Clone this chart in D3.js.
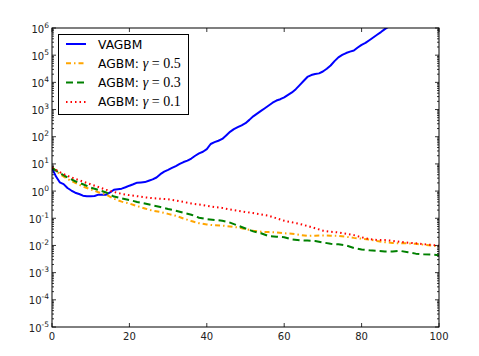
<!DOCTYPE html>
<html><head><meta charset="utf-8">
<script src="https://cdn.jsdelivr.net/npm/d3@7"></script>
<style>body{margin:0;background:#fff}svg{display:block}</style>
</head><body>
<script>
// ---- data ----
const vagbmX = d3.range(0, 89); // iterations 0..88
const vagbm = [7.1,3.5,2.1,1.8,1.3,1.05,0.87,0.78,0.68,0.65,0.65,0.66,0.74,0.74,0.74,0.89,1.12,1.17,1.23,1.38,
1.58,1.78,2.04,2.09,2.14,2.4,2.7,3.16,4.2,5.2,6.0,7.1,8.3,10,11.7,13.2,15.8,20,24.5,28,
35,54,63,71,83,112,151,190,224,263,316,417,562,708,891,1120,1410,1780,2140,2400,
2820,3470,4270,5620,7940,11200,15800,18600,20400,21400,25100,31600,41700,60300,83200,102000,120000,135000,148000,191000,
240000,282000,355000,447000,562000,708000,912000,1120000,1410000];
const agbmX = d3.range(0, 101, 2); // iterations 0,2,...,100
const agbm05 = [7.6,4.2,2.8,2.0,1.48,1.15,0.91,0.74,0.52,0.41,0.35,0.28,0.23,0.19,0.17,0.145,0.123,0.098,0.079,0.066,
0.059,0.055,0.054,0.050,0.046,0.040,0.035,0.032,0.031,0.030,0.028,0.027,0.0245,0.0224,0.0229,0.0234,0.0229,0.0224,0.0209,0.019,
0.0178,0.0166,0.0145,0.0132,0.0123,0.012,0.012,0.0115,0.0107,0.010,0.0093];
const agbm03 = [7.1,4.6,3.2,2.3,1.78,1.35,1.10,0.89,0.63,0.54,0.47,0.40,0.35,0.30,0.26,0.22,0.19,0.158,0.135,0.105,
0.093,0.087,0.081,0.069,0.054,0.042,0.033,0.028,0.022,0.021,0.020,0.0166,0.0155,0.0151,0.0145,0.0129,0.0115,0.011,0.010,0.0081,
0.0071,0.0066,0.0063,0.006,0.006,0.0063,0.0056,0.005,0.0047,0.0046,0.0044];
const agbm01 = [7.24,5.0,3.63,2.82,2.24,1.78,1.41,1.12,0.93,0.79,0.71,0.65,0.59,0.55,0.52,0.50,0.45,0.40,0.35,0.32,
0.29,0.26,0.24,0.21,0.19,0.17,0.155,0.138,0.123,0.10,0.081,0.071,0.062,0.052,0.043,0.035,0.032,0.030,0.027,0.024,
0.020,0.017,0.016,0.0158,0.0148,0.0135,0.0126,0.012,0.0112,0.0105,0.0098];
const xTicks = [0,20,40,60,80,100];
const yExps = [-5,-4,-3,-2,-1,0,1,2,3,4,5,6];
const legendLabels = ["VAGBM","AGBM: ","AGBM: ","AGBM: "];
const gammas = ["0.5","0.3","0.1"];

const series = [
  {x: vagbmX, y: vagbm, color: "#0000ff", dash: null},
  {x: agbmX, y: agbm05, color: "#ffa500", dash: "5,3,1.5,3"},
  {x: agbmX, y: agbm03, color: "#008000", dash: "7,4"},
  {x: agbmX, y: agbm01, color: "#ff0000", dash: "1.5,3"}
];

// ---- layout ----
const W = 479, H = 356;
const L = 52, R = 439, T = 28, B = 327;
const svg = d3.select("body").append("svg").attr("width", W).attr("height", H);
const x = d3.scaleLinear().domain([0,100]).range([L,R]);
const y = d3.scaleLog().domain([1e-5,1e6]).range([B,T]);

svg.append("clipPath").attr("id","clip").append("rect")
  .attr("x",L).attr("y",T).attr("width",R-L).attr("height",B-T);

const line = d3.line().x(d=>x(d[0])).y(d=>y(d[1]));
const plot = svg.append("g").attr("clip-path","url(#clip)");
series.forEach(s=>{
  plot.append("path").datum(s.x.map((v,i)=>[v,s.y[i]]))
    .attr("d", line).attr("fill","none").attr("stroke", s.color)
    .attr("stroke-width", 2).attr("stroke-dasharray", s.dash)
    .attr("stroke-linejoin","round");
});

// ticks
const tk = svg.append("g").attr("stroke","#000").attr("stroke-width",0.8);
xTicks.forEach(v=>{
  tk.append("line").attr("x1",x(v)).attr("x2",x(v)).attr("y1",B).attr("y2",B-4);
  tk.append("line").attr("x1",x(v)).attr("x2",x(v)).attr("y1",T).attr("y2",T+4);
});
yExps.forEach(e=>{
  const v = Math.pow(10,e);
  tk.append("line").attr("x1",L).attr("x2",L+4).attr("y1",y(v)).attr("y2",y(v));
  tk.append("line").attr("x1",R).attr("x2",R-4).attr("y1",y(v)).attr("y2",y(v));
  if (e < 6) for (let m=2;m<=9;m++){
    const mv = m*v;
    tk.append("line").attr("x1",L).attr("x2",L+2).attr("y1",y(mv)).attr("y2",y(mv));
    tk.append("line").attr("x1",R).attr("x2",R-2).attr("y1",y(mv)).attr("y2",y(mv));
  }
});
svg.append("rect").attr("x",L).attr("y",T).attr("width",R-L).attr("height",B-T)
  .attr("fill","none").attr("stroke","#000").attr("stroke-width",1);

// labels
const font = "DejaVu Sans, sans-serif";
xTicks.forEach(v=>{
  svg.append("text").attr("x",x(v)).attr("y",B+12.5).attr("text-anchor","middle")
    .attr("font-family",font).attr("font-size",10).attr("fill","#222").text(v);
});
yExps.forEach(e=>{
  const t = svg.append("text").attr("x",L-3).attr("y",y(Math.pow(10,e))+4.5)
    .attr("text-anchor","end").attr("font-family",font).attr("font-size",10).attr("fill","#222");
  t.append("tspan").text("10");
  t.append("tspan").attr("dy",-5).attr("font-size",7.5).text(String(e));
});

// legend
const lg = svg.append("g");
lg.append("rect").attr("x",58.5).attr("y",34.5).attr("width",130).attr("height",80)
  .attr("fill","#fff").attr("stroke","#000").attr("stroke-width",1);
series.forEach((s,i)=>{
  const yy = 44 + i*19.3;
  lg.append("line").attr("x1",66).attr("x2",86).attr("y1",yy).attr("y2",yy)
    .attr("stroke",s.color).attr("stroke-width",2).attr("stroke-dasharray",s.dash);
  const t = lg.append("text").attr("x",98).attr("y",yy+4.5)
    .attr("font-family",font).attr("font-size",12.3).attr("fill","#000");
  t.append("tspan").text(legendLabels[i]);
  if (i>0){
    t.append("tspan").attr("font-family","Liberation Serif, serif").attr("font-size",14).attr("font-style","italic").text("γ");
    t.append("tspan").attr("font-family","Liberation Serif, serif").attr("font-size",14).text(" = " + gammas[i-1]);
  }
});
</script>
</body></html>
